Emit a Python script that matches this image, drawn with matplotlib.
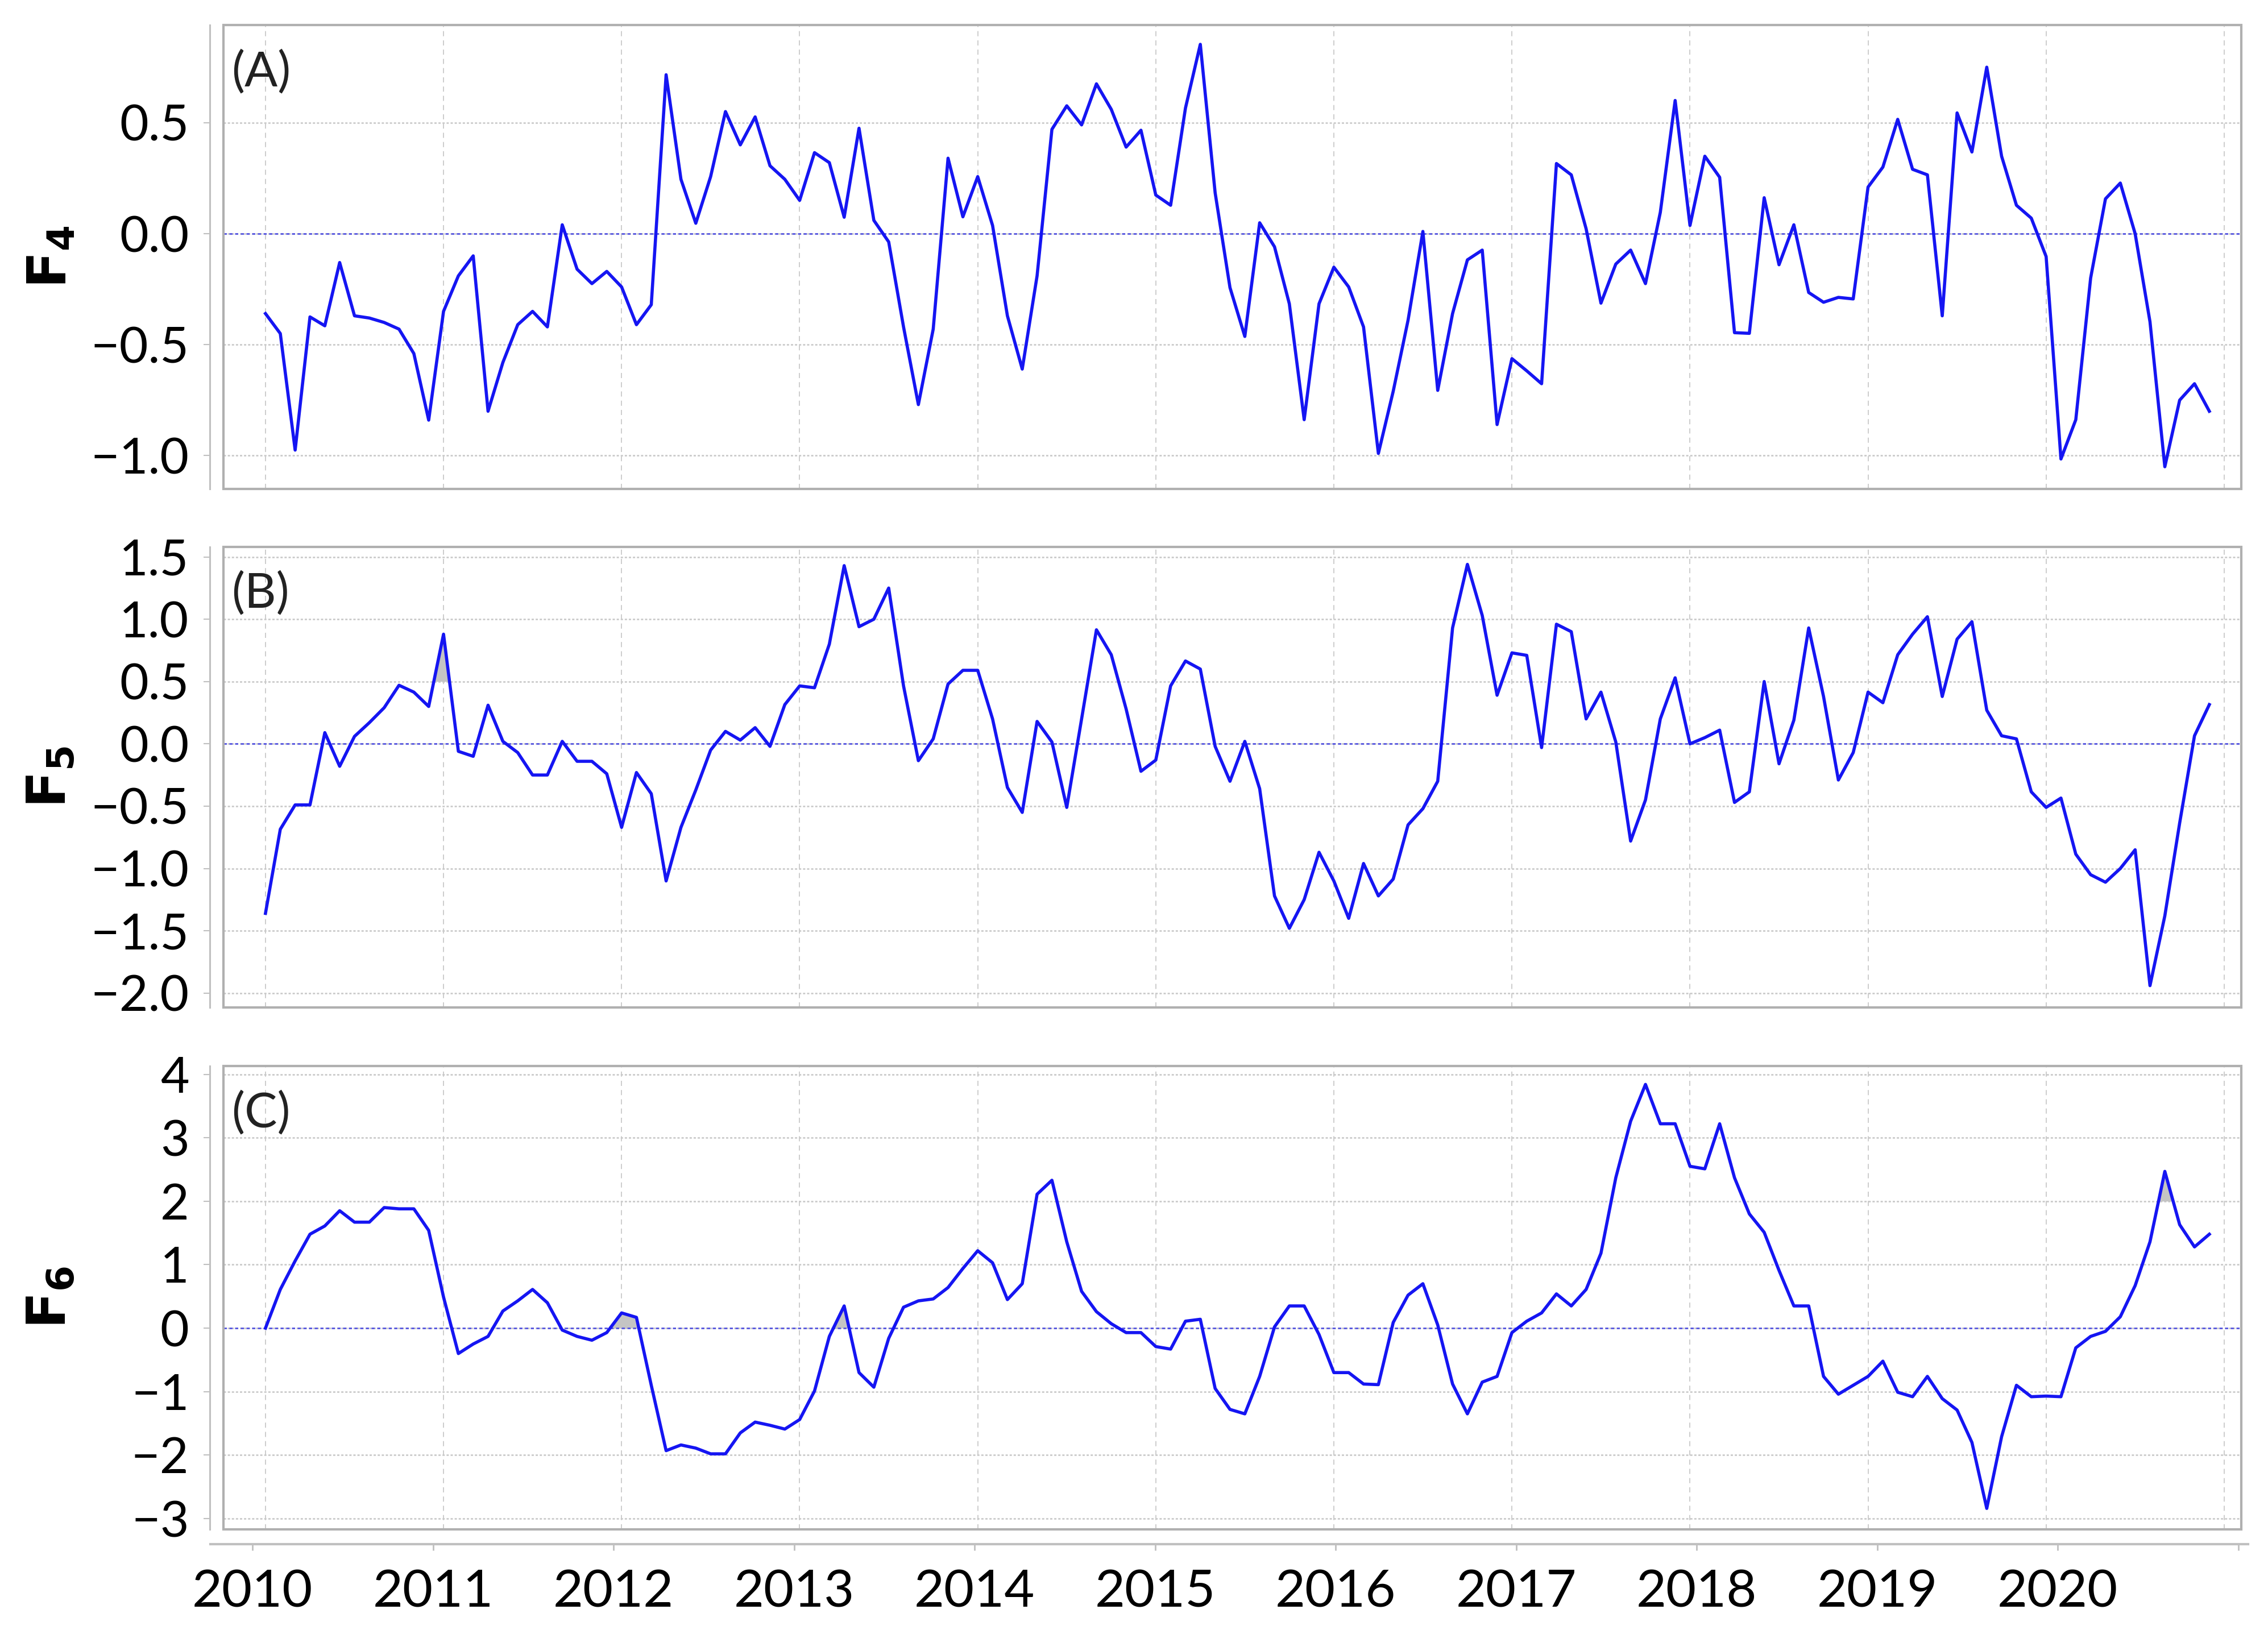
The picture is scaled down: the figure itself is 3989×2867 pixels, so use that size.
import numpy as np
import matplotlib
matplotlib.use('Agg')
import matplotlib.pyplot as plt
from matplotlib.patches import Rectangle
from matplotlib.ticker import FuncFormatter

plt.rcParams['font.family'] = ['Lato', 'DejaVu Sans']
plt.rcParams['mathtext.fontset'] = 'dejavusans'

# monthly factor scores, Jan 2010 .. Dec 2020
f4 = [-0.36, -0.45, -0.975, -0.375, -0.415, -0.13, -0.37, -0.38, -0.40, -0.43, -0.54, -0.84,
      -0.35, -0.19, -0.10, -0.80, -0.58, -0.41, -0.35, -0.42, 0.04, -0.16, -0.225, -0.17,
      -0.24, -0.41, -0.32, 0.716, 0.245, 0.047, 0.257, 0.55, 0.40, 0.526, 0.306, 0.245,
      0.15, 0.365, 0.32, 0.074, 0.475, 0.06, -0.037, -0.42, -0.77, -0.43, 0.34, 0.076,
      0.257, 0.037, -0.37, -0.61, -0.19, 0.47, 0.576, 0.49, 0.675, 0.56, 0.39, 0.466,
      0.174, 0.128, 0.566, 0.853, 0.184, -0.243, -0.463, 0.049, -0.059, -0.316, -0.838, -0.316,
      -0.151, -0.24, -0.42, -0.99, -0.71, -0.39, 0.01, -0.706, -0.36, -0.118, -0.074, -0.86,
      -0.563, -0.618, -0.676, 0.316, 0.265, 0.022, -0.313, -0.137, -0.074, -0.225, 0.096, 0.60,
      0.037, 0.349, 0.254, -0.446, -0.449, 0.162, -0.14, 0.04, -0.265, -0.309, -0.287, -0.294,
      0.21, 0.30, 0.515, 0.29, 0.265, -0.37, 0.544, 0.368, 0.75, 0.349, 0.128, 0.07,
      -0.103, -1.015, -0.838, -0.2, 0.157, 0.228, 0.0, -0.397, -1.05, -0.75, -0.676, -0.80]

f5 = [-1.36, -0.685, -0.49, -0.49, 0.09, -0.18, 0.06, 0.17, 0.29, 0.47, 0.415, 0.30,
      0.88, -0.06, -0.10, 0.31, 0.02, -0.07, -0.25, -0.25, 0.02, -0.14, -0.14, -0.24,
      -0.67, -0.23, -0.40, -1.10, -0.67, -0.37, -0.05, 0.10, 0.03, 0.13, -0.02, 0.315,
      0.465, 0.45, 0.80, 1.43, 0.94, 1.0, 1.25, 0.465, -0.135, 0.04, 0.48, 0.59,
      0.59, 0.20, -0.35, -0.55, 0.18, 0.015, -0.51, 0.20, 0.915, 0.715, 0.28, -0.22,
      -0.13, 0.465, 0.665, 0.60, -0.02, -0.30, 0.02, -0.36, -1.22, -1.48, -1.25, -0.87,
      -1.10, -1.40, -0.96, -1.22, -1.085, -0.65, -0.52, -0.30, 0.93, 1.44, 1.03, 0.39,
      0.73, 0.71, -0.03, 0.96, 0.90, 0.20, 0.415, 0.015, -0.78, -0.45, 0.20, 0.53,
      0.0, 0.05, 0.11, -0.47, -0.385, 0.50, -0.16, 0.19, 0.93, 0.38, -0.29, -0.07,
      0.415, 0.33, 0.715, 0.88, 1.02, 0.38, 0.84, 0.98, 0.27, 0.065, 0.04, -0.385,
      -0.51, -0.435, -0.885, -1.05, -1.11, -1.0, -0.85, -1.94, -1.38, -0.635, 0.065, 0.315]

f6 = [0.0, 0.61, 1.06, 1.48, 1.61, 1.85, 1.67, 1.67, 1.90, 1.88, 1.88, 1.54,
      0.49, -0.40, -0.25, -0.13, 0.27, 0.43, 0.61, 0.40, -0.03, -0.13, -0.19, -0.07,
      0.24, 0.17, -0.90, -1.93, -1.84, -1.89, -1.98, -1.98, -1.65, -1.48, -1.53, -1.59,
      -1.44, -0.99, -0.13, 0.35, -0.70, -0.93, -0.16, 0.33, 0.43, 0.46, 0.64, 0.94,
      1.22, 1.03, 0.45, 0.70, 2.11, 2.33, 1.36, 0.58, 0.26, 0.07, -0.07, -0.07,
      -0.29, -0.33, 0.11, 0.14, -0.95, -1.28, -1.35, -0.76, 0.02, 0.35, 0.35, -0.10,
      -0.70, -0.70, -0.88, -0.89, 0.09, 0.52, 0.70, 0.05, -0.88, -1.35, -0.85, -0.76,
      -0.07, 0.11, 0.24, 0.54, 0.35, 0.61, 1.18, 2.37, 3.26, 3.84, 3.22, 3.22,
      2.55, 2.51, 3.22, 2.37, 1.80, 1.51, 0.91, 0.35, 0.35, -0.76, -1.04, -0.90,
      -0.76, -0.52, -1.01, -1.08, -0.76, -1.11, -1.29, -1.80, -2.84, -1.71, -0.90, -1.08,
      -1.07, -1.08, -0.31, -0.13, -0.05, 0.18, 0.67, 1.36, 2.47, 1.63, 1.28, 1.48]

# small grey patches under a few spikes: (first month, last month, level)
shade5 = [(11, 13, 0.5)]
shade6 = [(23, 26, 0.0), (38, 40, 0.0), (127, 129, 2.0)]

months = 2010 + np.arange(len(f4)) / 12.0
years = list(range(2010, 2022))
year_labels = [str(y) for y in range(2010, 2021)] + ['']

W, H = 3989, 2867
fig = plt.figure(figsize=(W / 100, H / 100), dpi=100)

line_col = '#1515f2'
grid_col = '#c9c9c9'
frame_col = '#b0b0b0'

def minus_fmt(decimals):
    def f(v, pos):
        return ('%.*f' % (decimals, v)).replace('-', '\u2212')
    return FuncFormatter(f)

def panel(top, bottom, vals, ylim, yticks, dec, letter, sub, shades=()):
    ax = fig.add_axes([393 / W, (H - bottom) / H, (3942 - 393) / W, (bottom - top) / H])
    v = np.array(vals)
    for a, b, lev in shades:
        ax.fill_between(months[a:b + 1], v[a:b + 1], lev, where=v[a:b + 1] >= lev,
                        interpolate=True, color='#c4c4c4', lw=0, zorder=2)
    ax.plot(months, vals, color=line_col, lw=4, zorder=4)
    ax.axhline(0, color='#5656e0', lw=2, ls=(0, (2, 1.6)), zorder=3)
    ax.set_xlim(2009.764, 2021.096)
    ax.set_ylim(ylim)
    ax.set_xticks(years)
    ax.set_yticks(yticks)
    ax.yaxis.set_major_formatter(minus_fmt(dec))
    ax.grid(axis='x', color=grid_col, ls=(0, (5, 4)), lw=1.3)
    ax.grid(axis='y', color=grid_col, ls=(0, (1.5, 1.2)), lw=1.9)
    ax.tick_params(axis='x', bottom=False, labelbottom=False)
    ax.tick_params(axis='y', direction='out', length=8, width=1.5, color='#c0c0c0',
                   pad=18, labelsize=63)
    for s in ['top', 'right', 'bottom']:
        ax.spines[s].set_visible(False)
    ax.spines['left'].set_position(('outward', 17.5))
    ax.spines['left'].set_color('#c0c0c0')
    ax.spines['left'].set_linewidth(2.2)
    ax.add_patch(Rectangle((0, 0), 1, 1, transform=ax.transAxes, fill=False,
                           ec=frame_col, lw=3, clip_on=False, zorder=6))
    ax.text(0.004, 0.947, letter, transform=ax.transAxes, ha='left', va='top',
            fontsize=62, color='#222222')
    ax.set_ylabel(r'$\mathbf{F}_{\mathbf{%s}}$' % sub, fontsize=68)
    ax.yaxis.set_label_coords(-0.073, 0.5)
    return ax

panel(44, 860, f4, (-1.15, 0.94), [-1.0, -0.5, 0.0, 0.5], 1, '(A)', '4')
panel(962, 1772, f5, (-2.115, 1.58), [-2.0, -1.5, -1.0, -0.5, 0.0, 0.5, 1.0, 1.5], 1,
      '(B)', '5', shade5)
panel(1875, 2690, f6, (-3.17, 4.13), [-3, -2, -1, 0, 1, 2, 3, 4], 0, '(C)', '6', shade6)

# separate date axis under the last panel
axb = fig.add_axes([370 / W, (H - 2716) / H, (3954 - 370) / W, 0.0001])
axb.set_xlim(2009.767, 2021.054)
axb.set_xticks(years)
axb.set_xticklabels(year_labels)
axb.set_yticks([])
for s in ['top', 'right', 'left']:
    axb.spines[s].set_visible(False)
axb.spines['bottom'].set_color('#c0c0c0')
axb.spines['bottom'].set_linewidth(3)
axb.tick_params(axis='x', direction='out', length=8, width=2, color='#c0c0c0',
                pad=23, labelsize=66)
axb.patch.set_visible(False)

fig.savefig('out.png', dpi=100)
